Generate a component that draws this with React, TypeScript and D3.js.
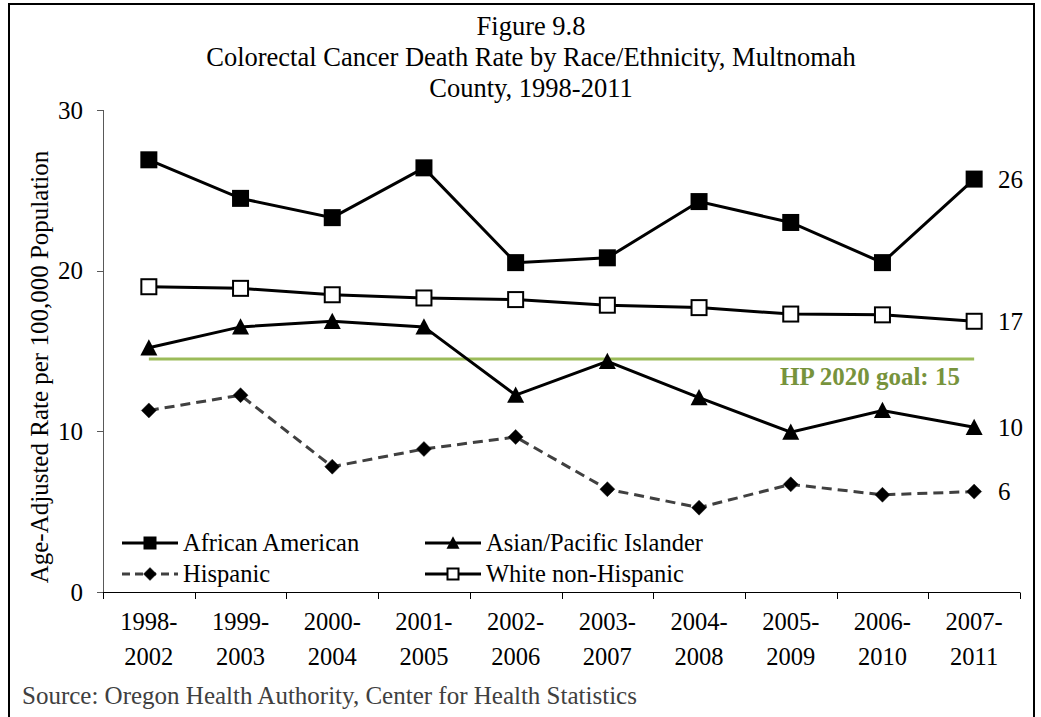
import React from "react";
import * as d3 from "d3";

const categories = ["1998-2002","1999-2003","2000-2004","2001-2005","2002-2006","2003-2007","2004-2008","2005-2009","2006-2010","2007-2011"];
const africanAmerican = [26.9, 24.5, 23.3, 26.4, 20.5, 20.8, 24.3, 23.0, 20.5, 25.7];
const whiteNonHispanic = [19.0, 18.9, 18.5, 18.3, 18.2, 17.85, 17.7, 17.3, 17.25, 16.85];
const asianPacific = [15.2, 16.5, 16.85, 16.5, 12.25, 14.35, 12.1, 9.95, 11.3, 10.25];
const hispanic = [11.3, 12.25, 7.8, 8.9, 9.65, 6.4, 5.25, 6.7, 6.05, 6.25];
const endLabels = ["26", "17", "10", "6"];
const yTicks = [0, 10, 20, 30];
const goalValue = 14.5;
const goalLabel = "HP 2020 goal: 15";
const titleLines = ["Figure 9.8", "Colorectal Cancer Death Rate by Race/Ethnicity, Multnomah", "County, 1998-2011"];

const FONT = "'Liberation Serif', 'Times New Roman', serif";

type Marker = "square" | "triangle" | "diamond" | "openSquare";

function MarkerShape({ type, x, y, size }: { type: Marker; x: number; y: number; size: number }) {
  if (type === "square") {
    return <rect x={x - size / 2} y={y - size / 2} width={size} height={size} fill="#000" />;
  }
  if (type === "openSquare") {
    const s = size - 2;
    return <rect x={x - s / 2} y={y - s / 2} width={s} height={s} fill="#fff" stroke="#000" strokeWidth={2} />;
  }
  if (type === "triangle") {
    const h = size * 0.9;
    return <path d={`M${x},${y - h / 2 - 1} L${x + size / 2},${y + h / 2} L${x - size / 2},${y + h / 2} Z`} fill="#000" />;
  }
  const r = size / 2;
  return <path d={`M${x},${y - r} L${x + r},${y} L${x},${y + r} L${x - r},${y} Z`} fill="#000" stroke="#222" strokeWidth={0.5} />;
}

export default function App() {
  const x = d3.scaleBand<string>().domain(categories).range([103, 1020]);
  const y = d3.scaleLinear().domain([0, 30]).range([592, 110]);
  const cx = (c: string) => (x(c) as number) + x.bandwidth() / 2;

  const series: { name: string; values: number[]; marker: Marker; dash?: string; color: string; size: number }[] = [
    { name: "Hispanic", values: hispanic, marker: "diamond", dash: "10,6", color: "#404040", size: 15 },
    { name: "Asian/Pacific Islander", values: asianPacific, marker: "triangle", color: "#000", size: 17 },
    { name: "White non-Hispanic", values: whiteNonHispanic, marker: "openSquare", color: "#000", size: 17 },
    { name: "African American", values: africanAmerican, marker: "square", color: "#000", size: 17 },
  ];

  const line = d3.line<number>().x((_, i) => cx(categories[i])).y((v) => y(v));

  const legend = [
    { name: "African American", marker: "square" as Marker, col: 0, row: 0 },
    { name: "Asian/Pacific Islander", marker: "triangle" as Marker, col: 1, row: 0 },
    { name: "Hispanic", marker: "diamond" as Marker, col: 0, row: 1, dash: "8,5", color: "#404040" },
    { name: "White non-Hispanic", marker: "openSquare" as Marker, col: 1, row: 1 },
  ];
  const legendX = [122, 425];
  const legendY = [543, 574];

  const lastValues = [africanAmerican, whiteNonHispanic, asianPacific, hispanic].map((s) => s[s.length - 1]);
  const lastX = cx(categories[categories.length - 1]);

  return (
    <svg width={1041} height={717} style={{ position: "absolute", left: 0, top: 0, background: "#fff" }} fontFamily={FONT}>
      <rect x={0} y={0} width={1041} height={717} fill="#fff" />
      {/* frame */}
      <rect x={9} y={4} width={1025} height={730} fill="none" stroke="#000" strokeWidth={2} />

      {/* title */}
      {titleLines.map((t, i) => (
        <text key={i} x={531} y={35 + i * 31} textAnchor="middle" fontSize={26.5} fill="#000">{t}</text>
      ))}

      {/* y axis */}
      <line x1={103.5} x2={103.5} y1={y(30)} y2={y(0)} stroke="#595959" strokeWidth={1} />
      {yTicks.map((t) => (
        <g key={t}>
          <line x1={97} x2={103.5} y1={Math.round(y(t)) + 0.5} y2={Math.round(y(t)) + 0.5} stroke="#595959" strokeWidth={1} />
          <text x={83} y={y(t) + 8.5} textAnchor="end" fontSize={25} fill="#000">{t}</text>
        </g>
      ))}
      <text transform={`translate(48,367) rotate(-90)`} textAnchor="middle" fontSize={25} fill="#000">
        Age-Adjusted Rate per 100,000 Population
      </text>

      {/* x axis */}
      <line x1={103} x2={1020} y1={592.5} y2={592.5} stroke="#000" strokeWidth={1} />
      {[...categories.map((c) => x(c) as number), 1020].map((p, i) => (
        <line key={i} x1={Math.round(p) + 0.5} x2={Math.round(p) + 0.5} y1={592.5} y2={599} stroke="#000" strokeWidth={1} />
      ))}
      {categories.map((c) => {
        const [a, b] = c.split("-");
        return (
          <text key={c} x={cx(c)} textAnchor="middle" fontSize={24.5} fill="#000">
            <tspan x={cx(c)} y={630}>{a + "-"}</tspan>
            <tspan x={cx(c)} y={665}>{b}</tspan>
          </text>
        );
      })}

      {/* goal line */}
      <line x1={cx(categories[0])} x2={lastX} y1={y(goalValue)} y2={y(goalValue)} stroke="#9BBB59" strokeWidth={3} />
      <text x={870} y={385} textAnchor="middle" fontSize={25} fontWeight="bold" fill="#77933C">{goalLabel}</text>

      {/* series */}
      {series.map((s) => (
        <g key={s.name}>
          <path d={line(s.values) as string} fill="none" stroke={s.color} strokeWidth={3} strokeDasharray={s.dash} />
          {s.values.map((v, i) => (
            <MarkerShape key={i} type={s.marker} x={cx(categories[i])} y={y(v)} size={s.size} />
          ))}
        </g>
      ))}

      {/* end labels */}
      {lastValues.map((v, i) => (
        <text key={i} x={998} y={y(v) + 8.5} fontSize={25} fill="#000">{endLabels[i]}</text>
      ))}

      {/* legend */}
      {legend.map((l) => {
        const lx = legendX[l.col];
        const ly = legendY[l.row];
        return (
          <g key={l.name}>
            <line x1={lx} x2={lx + 56} y1={ly} y2={ly} stroke={l.color || "#000"} strokeWidth={3} strokeDasharray={l.dash} />
            <MarkerShape type={l.marker} x={lx + 28} y={ly} size={13} />
            <text x={lx + 61} y={ly + 7.5} fontSize={24.5} fill="#000">{l.name}</text>
          </g>
        );
      })}

      {/* source */}
      <text x={22} y={704} fontSize={25} fill="#404040">Source: Oregon Health Authority, Center for Health Statistics</text>
    </svg>
  );
}
